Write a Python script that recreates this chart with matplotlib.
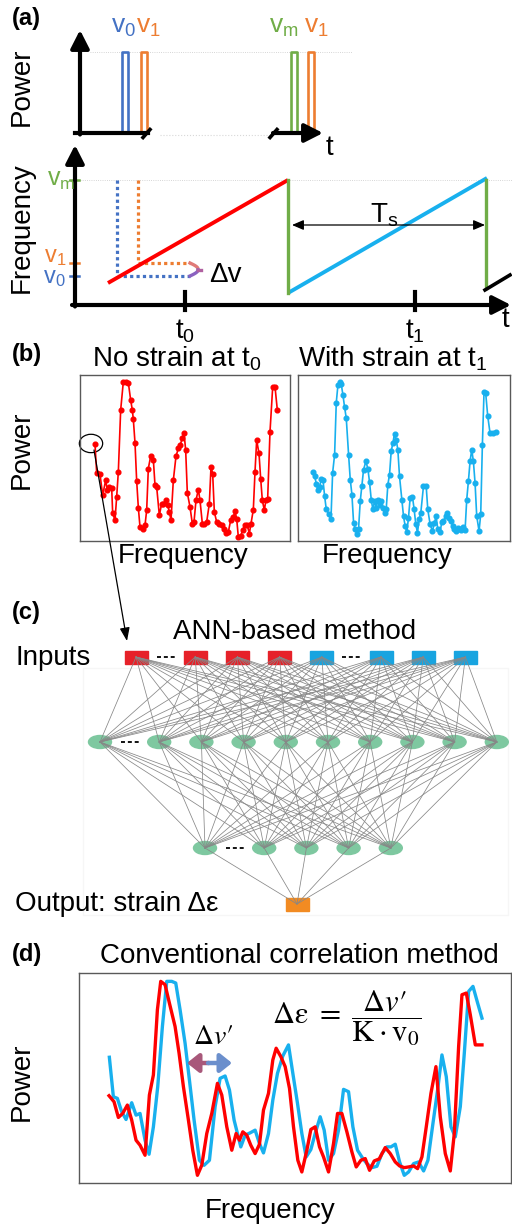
import numpy as np
import matplotlib.pyplot as plt
from matplotlib.patches import Ellipse, Rectangle

W, H = 512, 1228

plt.rcParams['font.family'] = ['Liberation Sans', 'DejaVu Sans']
plt.rcParams['mathtext.fontset'] = 'custom'
plt.rcParams['mathtext.rm'] = 'Liberation Sans'
plt.rcParams['mathtext.it'] = 'Liberation Sans:italic'
plt.rcParams['mathtext.bf'] = 'Liberation Sans:bold'

RED = '#ff0000'
CYAN = '#18b0ee'
BLUE = '#4472c4'
ORANGE = '#ed7d31'
GREEN = '#70ad47'
FS = 20

# ---------------- (a) pulses and frequency sweep ----------------
pulse_t = [4.5, 6.35, 21.35, 23.1]
pulse_col = [BLUE, ORANGE, GREEN, ORANGE]
pulse_h = 8.1

red_t = [3.3, 21.3]
red_f = [2.2, 12.5]
blue_t = [21.3, 41.2]
blue_f = [1.2, 12.7]
fly_t = [21.3, 41.1]
fly_lo = [1.2, 1.7]
next_t = [41.0, 43.5]
next_f = [1.5, 3.0]
v0, v1, vm = 2.9, 4.2, 12.5
t0, t1 = 11.0, 34.0

# ---------------- (b) measured spectra ----------------
b_red_f = [45, 50, 60, 68, 77, 82, 88, 95, 98, 105, 110, 115, 122, 130, 138, 145,
           152, 157, 160, 165, 170, 175, 180, 188, 195, 200, 205, 212, 220, 225,
           230, 238, 245, 250, 257, 263, 268, 273, 280, 288, 295, 300, 307, 312,
           317, 322, 330, 337, 342, 348, 355, 360, 367, 373, 380, 388, 393, 398,
           403, 410, 418, 425, 432, 438, 445, 452, 460, 465, 470, 475, 482, 488,
           495, 502, 508, 513, 520, 525, 530, 537, 542, 547, 553, 558, 563, 570,
           578, 585, 592]
b_red_p = [293, 207, 203, 140, 185, 155, 165, 163, 87, 65, 135, 210, 395, 480, 480,
           477, 425, 395, 367, 297, 183, 103, 45, 40, 50, 95, 220, 257, 247, 170,
           165, 80, 115, 113, 125, 110, 90, 65, 185, 257, 280, 290, 310, 327, 275,
           147, 105, 55, 60, 125, 157, 125, 55, 55, 60, 115, 225, 205, 90, 60, 55,
           50, 40, 27, 30, 65, 75, 92, 70, 15, 17, 37, 50, 50, 25, 55, 97, 210,
           305, 265, 190, 125, 95, 127, 130, 330, 463, 465, 395]

b_blue_f = [45, 50, 55, 59, 65, 70, 75, 80, 85, 92, 99, 104, 110, 115, 120, 125,
            130, 135, 140, 145, 152, 157, 162, 167, 172, 177, 182, 187, 192, 197,
            204, 210, 215, 220, 225, 230, 235, 240, 245, 250, 255, 260, 265, 270,
            275, 280, 285, 290, 295, 300, 305, 312, 317, 322, 327, 332, 337, 344,
            349, 354, 359, 364, 369, 377, 385, 390, 397, 404, 410, 415, 420, 427,
            432, 437, 444, 449, 455, 460, 465, 470, 475, 480, 485, 490, 497, 502,
            507, 512, 517, 522, 527, 532, 537, 544, 549, 554, 559, 564, 570, 577,
            585, 594]
b_blue_p = [207, 195, 173, 153, 163, 187, 185, 135, 95, 82, 65, 205, 260, 417, 470,
            480, 472, 440, 403, 370, 260, 185, 140, 55, 37, 20, 37, 120, 167, 215,
            240, 217, 177, 125, 95, 120, 100, 123, 107, 120, 100, 85, 95, 170, 200,
            270, 295, 323, 305, 275, 195, 125, 75, 45, 27, 70, 130, 133, 95, 50,
            25, 65, 85, 165, 167, 95, 50, 30, 55, 75, 35, 27, 57, 60, 75, 85, 70,
            60, 45, 35, 30, 40, 37, 33, 43, 33, 125, 180, 240, 275, 240, 175, 75,
            30, 80, 290, 450, 445, 377, 325, 325, 327]

# ---------------- (c) network layout ----------------
input_kind = ['r', 'r', 'r', 'r', 'b', 'b', 'b', 'b']
hidden1_n = 10
hidden2_n = 5

# ---------------- (d) overlaid spectra ----------------
d_red_f = [90, 105, 118, 131, 145, 158, 171, 183, 198, 211, 223, 235, 245, 258, 271,
           288, 300, 313, 328, 341, 355, 368, 383, 398, 415, 428, 443, 458, 471,
           481, 491, 503, 515, 528, 541, 553, 568, 581, 591, 605, 618, 631, 643,
           656, 668, 683, 695, 708, 721, 733, 748, 763, 775, 788, 803, 818, 831,
           845, 858, 871, 885, 900, 918, 933, 948, 961, 975, 988, 1003, 1015, 1028,
           1041, 1055, 1070, 1083, 1098, 1113, 1125, 1138, 1148, 1161, 1173, 1188,
           1208]
d_red_p = [261, 243, 196, 208, 233, 188, 128, 113, 83, 263, 323, 518, 603, 593, 538,
           468, 388, 288, 188, 98, 23, 53, 148, 208, 298, 263, 168, 98, 148, 128,
           153, 143, 113, 88, 116, 218, 268, 368, 403, 378, 348, 283, 168, 68, 33,
           98, 160, 168, 108, 78, 33, 118, 208, 208, 153, 93, 48, 68, 73, 38, 66,
           72, 106, 88, 63, 51, 46, 48, 51, 43, 78, 168, 268, 348, 198, 88, 36, 148,
           408, 563, 568, 503, 413, 413]

d_blue_f = [91, 103, 115, 128, 141, 158, 171, 183, 198, 210, 223, 236, 250, 263, 278,
            290, 303, 318, 331, 345, 361, 375, 391, 408, 423, 438, 451, 465, 475,
            485, 498, 513, 528, 541, 553, 568, 581, 595, 611, 628, 641, 655, 668,
            681, 695, 708, 723, 735, 748, 763, 778, 793, 808, 821, 835, 851, 863,
            878, 893, 908, 923, 935, 948, 961, 975, 988, 1003, 1018, 1033, 1046,
            1061, 1075, 1088, 1101, 1115, 1128, 1143, 1155, 1168, 1181, 1195, 1208]
d_blue_p = [376, 258, 253, 213, 190, 240, 203, 208, 128, 86, 168, 288, 468, 603, 603,
            598, 518, 418, 308, 188, 68, 53, 68, 228, 313, 320, 278, 188, 148, 108,
            143, 150, 158, 118, 90, 148, 248, 328, 380, 413, 328, 238, 148, 78, 100,
            148, 198, 158, 68, 88, 158, 280, 273, 168, 98, 73, 58, 46, 50, 88, 108,
            108, 116, 63, 23, 33, 58, 63, 36, 68, 178, 278, 383, 318, 168, 138, 228,
            388, 573, 588, 538, 493]


fig = plt.figure(figsize=(W / 100, H / 100), dpi=100)


def px_axes(x0, y0, x1, y1):
    return fig.add_axes([x0 / W, 1 - y1 / H, (x1 - x0) / W, (y1 - y0) / H])


def arrow(ax, tail, tip, lw=3.0, color='k', hl=0.55, hw=0.28, ms=20, style='-|>'):
    ax.annotate('', xy=tip, xytext=tail,
                arrowprops=dict(arrowstyle=f'{style},head_length={hl},head_width={hw}',
                                lw=lw, color=color, shrinkA=0, shrinkB=0,
                                mutation_scale=ms),
                annotation_clip=False)


# ---- (a) top: power vs t
axp = px_axes(60, 20, 360, 160)
axp.set_xlim(-2, 28)
axp.set_ylim(-2.7, 11.3)
axp.axis('off')
axp.plot([1.0, 27.2], [pulse_h, pulse_h], color='#c8c8c8', lw=0.6, ls=':')
for t, c in zip(pulse_t, pulse_col):
    w = 0.3
    axp.plot([t - w, t - w, t + w, t + w], [0, pulse_h, pulse_h, 0], color=c, lw=1.9,
             solid_joinstyle='round', solid_capstyle='butt')
axp.plot([-0.5, 6.8], [0, 0], color='k', lw=3.0)
axp.plot([6.3, 7.0], [-0.45, 0.35], color='k', lw=2.6)
axp.plot([8, 19], [-0.15, -0.15], color='#d8d8d8', lw=0.8, ls=':')
axp.plot([19.0, 19.7], [-0.45, 0.35], color='k', lw=2.6)
arrow(axp, (19.3, 0), (24.3, 0))
arrow(axp, (0, -0.15), (0, 10.3))

# ---- (a) bottom: frequency vs t
axf = px_axes(30, 140, 512, 340)
axf.set_xlim(-4.5, 43.7)
axf.set_ylim(-3.5, 16.5)
axf.axis('off')
axf.plot([0.5, 43.7], [vm, vm], color='#c8c8c8', lw=0.6, ls=':')
axf.plot([4.2, 4.2, 11.5], [vm, v0, v0], color=BLUE, lw=2.3, ls=(0, (1, 1)))
axf.plot([6.3, 6.3, 11.5], [vm, v1, v1], color=ORANGE, lw=2.3, ls=(0, (1, 1)))
axf.plot(red_t, red_f, color=RED, lw=2.8, solid_capstyle='butt')
axf.plot(blue_t, blue_f, color=CYAN, lw=2.8, solid_capstyle='butt')
for t, lo in zip(fly_t, fly_lo):
    axf.plot([t, t], [lo, vm], color=GREEN, lw=2.4)
axf.plot(next_t, next_f, color='k', lw=2.6)
# delta-v brace
s = np.linspace(0, 1, 20)
axf.plot(11.5 + 0.8 * np.sin(s * np.pi / 2), v1 - 0.6 * s, color='#e07a78', lw=2.4)
axf.plot(11.5 + 0.8 * np.sin(s * np.pi / 2), v0 + 0.6 * s, color='#8a62c0', lw=2.4)
axf.plot([12.3, 12.6], [3.55, 3.55], color='#b060a0', lw=2.4)
for tk in (t0, t1):
    axf.plot([tk, tk], [-0.5, 1.3], color='k', lw=3.0)
for lvl, c in ((vm, GREEN), (v1, ORANGE), (v0, BLUE)):
    axf.plot([-0.5, 0.4], [lvl, lvl], color=c, lw=1.8)
arrow(axf, (-0.3, 0), (43.6, 0))
arrow(axf, (0, -0.15), (0, 16.0))
arrow(axf, (21.7, 8.0), (41.0, 8.0), lw=0.9, hl=0.7, hw=0.3, ms=10, style='<|-|>')

# ---- (b) spectra
axb1 = px_axes(80, 375, 290, 541)
axb1.plot(b_red_f, b_red_p, color=RED, lw=1.2, marker='o', ms=3.4)
axb1.set_xlim(0, 630)
axb1.set_ylim(3, 500)
axb1.add_patch(Ellipse((b_red_f[0] - 12, b_red_p[0] + 2), 70, 55, fill=False,
                       ec='k', lw=0.9, clip_on=False))
axb2 = px_axes(298, 375, 510, 541)
axb2.plot(b_blue_f, b_blue_p, color=CYAN, lw=1.2, marker='o', ms=3.4)
axb2.set_xlim(0, 637)
axb2.set_ylim(0, 500)

# ---- (d) spectra
axd = px_axes(79, 973, 511, 1183)
axd.plot(d_blue_f, d_blue_p, color=CYAN, lw=2.4)
axd.plot(d_red_f, d_red_p, color=RED, lw=2.4)
axd.set_xlim(0, 1295)
axd.set_ylim(0, 628)

for ax in (axb1, axb2, axd):
    ax.set_xticks([])
    ax.set_yticks([])
    for sp in ax.spines.values():
        sp.set_color('#595959')
        sp.set_linewidth(1.0)

# ---- overlay in pixel coordinates: text, network, cross-panel arrow
ov = px_axes(0, 0, W, H)
ov.set_xlim(0, W)
ov.set_ylim(H, 0)
ov.axis('off')
ov.set_zorder(10)
ov.patch.set_alpha(0)


def layer_x(n, x_start, gaps, step=42.2, gap=17):
    return [x_start + i * step + gap * sum(1 for g in gaps if i > g) for i in range(n)]


in_x = layer_x(len(input_kind), 136, (0, 4))
h1_x = layer_x(hidden1_n, 100, (0,))
h2_x = layer_x(hidden2_n, 205, (0,))
out_x = [297]
layers = [(in_x, 657), (h1_x, 742), (h2_x, 848), (out_x, 904)]

ov.add_patch(Rectangle((83, 668), 425, 247, fill=False, ec='#f6f6f6', lw=1.0))
for (xa, ya), (xb, yb) in zip(layers[:-1], layers[1:]):
    for a in xa:
        for b in xb:
            ov.plot([a, b], [ya, yb], color='#878787', lw=0.55, zorder=4)
for x, k in zip(in_x, input_kind):
    ov.add_patch(Rectangle((x - 11.5, 650.5), 23, 13, color='#e62129' if k == 'r' else '#18a4e0',
                           zorder=3))
for xs, y in ((h1_x, 742), (h2_x, 848)):
    for x in xs:
        ov.add_patch(Ellipse((x, y), 23, 13, color='#7ec8a0', zorder=3))
ov.add_patch(Rectangle((out_x[0] - 11.5, 897.5), 23, 13, color='#f28b22', zorder=3))
for xs, y in ((in_x, 657), (h1_x, 742), (h2_x, 848)):
    xm = (xs[0] + xs[1]) / 2
    ov.plot([xm - 9, xm + 9], [y, y], color='k', lw=1.3, ls=(0, (2.2, 1.6)), zorder=5)
xm = (in_x[4] + in_x[5]) / 2
ov.plot([xm - 9, xm + 9], [657, 657], color='k', lw=1.3, ls=(0, (2.2, 1.6)), zorder=5)

arrow(ov, (94, 450), (127, 641), lw=0.9, hl=0.8, hw=0.3, ms=10)

# delta nu' arrow in (d)
arrow(ov, (209, 1063), (187, 1063), lw=3.2, color='#a8587a', hl=0.5, hw=0.4, ms=14)
arrow(ov, (208, 1063), (232, 1063), lw=3.2, color='#6b8fcc', hl=0.5, hw=0.4, ms=14)

# panel labels
for lab, y in (('(a)', 18), ('(b)', 354), ('(c)', 613), ('(d)', 955)):
    ov.text(12, y, lab, fontsize=17, fontweight='bold', va='center', ha='left')

ov.text(22, 87, 'Power', rotation=90, fontsize=FS, ha='center', va='center')
ov.text(22, 228, 'Frequency', rotation=90, fontsize=FS, ha='center', va='center')
ov.text(22, 450, 'Power', rotation=90, fontsize=FS, ha='center', va='center')
ov.text(22, 1082, 'Power', rotation=90, fontsize=FS, ha='center', va='center')

ov.text(124, 27, r'v$_0$', color=BLUE, fontsize=19, ha='center', va='center')
ov.text(148, 27, r'v$_1$', color=ORANGE, fontsize=19, ha='center', va='center')
ov.text(284, 27, r'v$_\mathrm{m}$', color=GREEN, fontsize=19, ha='center', va='center')
ov.text(316, 27, r'v$_1$', color=ORANGE, fontsize=19, ha='center', va='center')
ov.text(329, 148, 't', fontsize=FS, ha='center', va='center')

ov.text(75, 180, r'v$_\mathrm{m}$', color=GREEN, fontsize=18, ha='right', va='center')
ov.text(66, 257, r'v$_1$', color=ORANGE, fontsize=17, ha='right', va='center')
ov.text(66, 278, r'v$_0$', color=BLUE, fontsize=17, ha='right', va='center')
ov.text(209, 275, 'Δv', fontsize=FS, ha='left', va='center')
ov.text(384, 215, r'T$_\mathrm{s}$', fontsize=FS, ha='center', va='center')
ov.text(185, 331, r't$_0$', fontsize=FS, ha='center', va='center')
ov.text(415, 331, r't$_1$', fontsize=FS, ha='center', va='center')
ov.text(505, 320, 't', fontsize=FS, ha='center', va='center')

ov.text(92, 359, r'No strain at t$_0$', fontsize=FS, ha='left', va='center')
ov.text(298, 359, r'With strain at t$_1$', fontsize=FS, ha='left', va='center')
ov.text(183, 556, 'Frequency', fontsize=FS, ha='center', va='center')
ov.text(387, 556, 'Frequency', fontsize=FS, ha='center', va='center')

ov.text(295, 632, 'ANN-based method', fontsize=FS, ha='center', va='center')
ov.text(15, 658, 'Inputs', fontsize=FS, ha='left', va='center')
ov.text(15, 904, 'Output: strain Δε', fontsize=FS, ha='left', va='center')

ov.text(100, 956, 'Conventional correlation method', fontsize=FS, ha='left', va='center')
ov.text(270, 1211, 'Frequency', fontsize=FS, ha='center', va='center')
ov.text(272, 1018, r"$\Delta\mathrm{\varepsilon}\ =\ \dfrac{\Delta v\prime}{\mathrm{K}\cdot\mathrm{v}_0}$",
        math_fontfamily='stix', fontsize=22, ha='left', va='center')
ov.text(213, 1037, r"$\Delta v\prime$", math_fontfamily='stix', fontsize=20,
        ha='center', va='center')

fig.savefig('out.png', dpi=100)
